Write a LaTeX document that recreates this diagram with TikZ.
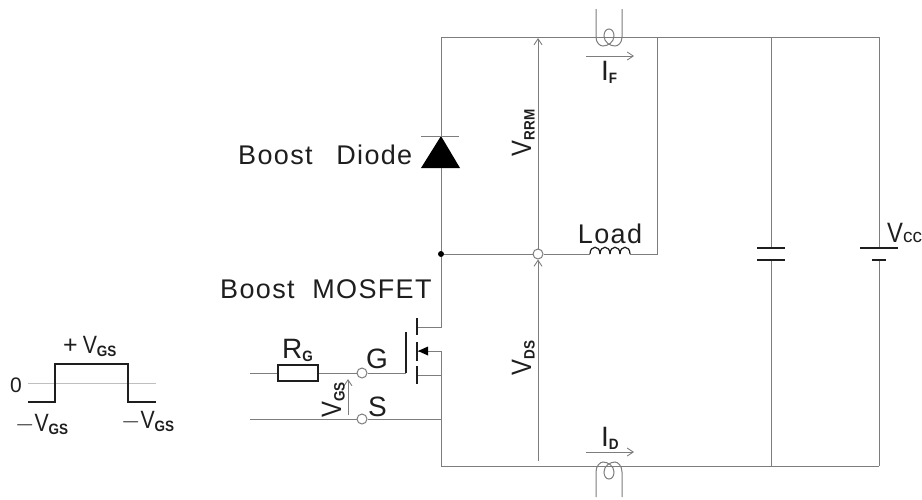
\documentclass[tikz,border=0pt]{standalone}
\usepackage{fontspec}
\setmainfont{Liberation Sans}
\newfontfamily\wordfont[LetterSpace=5,WordSpace=2]{Liberation Sans}
\usepackage{tikz}
\usetikzlibrary{arrows.meta, positioning, calc}
\definecolor{wireFg}{RGB}{125, 125, 125}
\definecolor{inkFg}{RGB}{30, 30, 30}
\tikzstyle{wire} = [wireFg, line width=1pt]
\tikzstyle{arrow} = [wireFg, line width=0.9pt, ->, >={Straight Barb[length=6pt,width=8pt]}]
\tikzstyle{plate} = [inkFg, line width=1.7pt]
\tikzstyle{terminal} = [circle, draw=wireFg, line width=1pt, fill=white, inner sep=0pt, minimum size=10pt]
\tikzstyle{junction} = [circle, fill=black, inner sep=0pt, minimum size=6pt]
\tikzstyle{resbox} = [rectangle, draw=inkFg, line width=1.7pt, fill=white, inner sep=0pt, minimum width=40pt, minimum height=16pt]
\tikzstyle{label} = [text=inkFg, inner sep=0pt, font=\fontsize{28}{28}\selectfont]
\tikzstyle{wavelabel} = [label, font=\fontsize{25}{25}\selectfont]
\tikzstyle{wordlabel} = [label, font=\fontsize{27}{27}\wordfont]
\newcommand{\lowtext}[1]{\raisebox{-3.5pt}{\scalebox{.9}[1]{\fontsize{15}{15}\selectfont\bfseries #1}}}
\newcommand{\volt}{\scalebox{.85}[1]{V}}

\begin{document}
\begin{tikzpicture}[x=1pt, y=-1pt]
\useasboundingbox (0,0) rectangle (922,499);

% rails
\coordinate (topL) at (441,37);
\coordinate (topLoad) at (657,37);
\coordinate (topCap) at (771,37);
\coordinate (topBat) at (879,37);
\coordinate (botL) at (441,466);
\coordinate (botCap) at (771,466);
\coordinate (botBat) at (879,466);
\draw [wire] (topL) -- (topBat);
\draw [wire] (botL) -- (botBat);

% diode
\coordinate (dioA) at (441,136);
\coordinate (dioB) at (441,168);
\draw [wire] (topL) -- (dioA);
\fill [black] (dioA) -- (421,168) -- (460,168) -- cycle;
\draw [wire] (421,136) -- (459,136);
\node (dot) [junction] at (441,254) {};
\draw [wire] (dioB) -- (dot);
\node (diodeText) [wordlabel, anchor=base west] at (238,164) {Boost\hspace{6pt} Diode};

% load branch
\node (mid) [terminal] at (538,254) {};
\coordinate (indL) at (590,254);
\coordinate (indR) at (630,254);
\coordinate (loadCorner) at (657,254);
\draw [wire] (dot) -- (mid);
\draw [wire] (mid) -- (indL);
\foreach \hump in {0,10,20,30}
  \draw [inkFg, line width=1.2pt] (590+\hump,254) .. controls (590+\hump,245) and (600+\hump,245) .. (600+\hump,254);
\draw [wire] (indR) -- (loadCorner) -- (topLoad);
\node (loadText) [wordlabel, anchor=base] at (610,243) {Load};

% capacitor
\coordinate (capA) at (771,248);
\coordinate (capB) at (771,260);
\draw [wire] (topCap) -- (capA);
\draw [wire] (capB) -- (botCap);
\draw [plate] (757,248) -- (785,248);
\draw [plate] (757,260) -- (785,260);

% battery
\coordinate (batA) at (879,248);
\coordinate (batB) at (879,260);
\draw [wire] (topBat) -- (batA);
\draw [wire] (batB) -- (botBat);
\draw [plate] (860,248) -- (898,248);
\draw [plate] (872,260) -- (886,260);
\node (vcc) [label, anchor=base west] at (887,242) {\volt{\fontsize{19}{19}\selectfont cc}};

% voltage arrows
\coordinate (rrmEnd) at (538,38);
\coordinate (dsStart) at (538,461);
\draw [arrow] (mid) -- (rrmEnd);
\draw [arrow] (dsStart) -- (mid);
\node (vrrm) [label, rotate=90, anchor=base] at (531,133) {\volt\lowtext{RRM}};
\node (vds) [label, rotate=90, anchor=base] at (531,358) {\volt\lowtext{DS}};

% current probes
\draw [wire] (596,9) -- (596,37) .. controls (596,43) and (600,46) .. (603,46)
  .. controls (608,46) and (614,42) .. (614,36) .. controls (614,32) and (612,29) .. (609,29)
  .. controls (606,29) and (604,32) .. (604,36) .. controls (604,42) and (610,46) .. (615,46)
  .. controls (618,46) and (622,43) .. (622,37) -- (622,9);
\draw [wire] (596,497) -- (596,472) .. controls (596,466) and (600,462) .. (603,462)
  .. controls (608,462) and (614,466) .. (614,472) .. controls (614,476) and (612,479) .. (609,479)
  .. controls (606,479) and (604,476) .. (604,472) .. controls (604,466) and (610,462) .. (615,462)
  .. controls (618,462) and (622,466) .. (622,472) -- (622,497);
\coordinate (ifL) at (586,56);
\coordinate (ifR) at (634,56);
\coordinate (idL) at (586,452);
\coordinate (idR) at (634,452);
\draw [arrow] (ifL) -- (ifR);
\draw [arrow] (idL) -- (idR);
\node (iF) [label, anchor=base west] at (601,80) {I\lowtext{F}};
\node (iD) [label, anchor=base west] at (601,446) {I\lowtext{D}};

% MOSFET
\coordinate (drain) at (417,327);
\coordinate (body) at (417,351);
\coordinate (source) at (417,375);
\coordinate (bodyTap) at (441,351);
\coordinate (drainTap) at (441,327);
\coordinate (sourceTap) at (441,375);
\coordinate (sTap) at (441,419);
\draw [wire] (dot) -- (drainTap) -- (drain);
\draw [wire] (bodyTap) -- (botL);
\draw [wire] (bodyTap) -- (body);
\draw [wire] (source) -- (sourceTap);
\fill [black] (418,351) -- (428,346.5) -- (428,355.5) -- cycle;
\draw [plate] (417,318) -- (417,335);
\draw [plate] (417,342) -- (417,361);
\draw [plate] (417,366) -- (417,384);
\draw [plate] (406,332) -- (406,373);
\node (mosText) [wordlabel, anchor=base west] at (220,298) {Boost MOSFET};

% gate drive
\coordinate (gateIn) at (250,373);
\coordinate (gatePlate) at (406,373);
\coordinate (srcIn) at (250,419);
\node (rg) [resbox] at (298,373) {};
\node (gT) [terminal] at (362,373) {};
\node (sT) [terminal] at (362,419) {};
\draw [wire] (gateIn) -- (rg);
\draw [wire] (rg) -- (gT);
\draw [wire] (gT) -- (gatePlate);
\draw [wire] (srcIn) -- (sT);
\draw [wire] (sT) -- (sTap);
\node (rgText) [label, anchor=base west] at (282,358) {R\lowtext{G}};
\node (gText) [label, anchor=base west] at (366,368) {G};
\node (sText) [label, anchor=base west] at (368,416) {S};
\coordinate (vgsA) at (348,415);
\coordinate (vgsB) at (348,379);
\draw [arrow] (vgsA) -- (vgsB);
\node (vgs) [label, rotate=90, anchor=base] at (341,400) {\volt\lowtext{GS}};

% waveform
\coordinate (zeroL) at (28,383);
\coordinate (zeroR) at (156,383);
\draw [wire, lightgray] (zeroL) -- (zeroR);
\draw [inkFg, line width=1.4pt] (28,402) -- (55,402) -- (55,364) -- (128,364) -- (128,402) -- (156,402);
\node (zero) [label, font=\fontsize{21}{21}\selectfont, anchor=base] at (16,392) {0};
\node (posV) [wavelabel, anchor=base west] at (63,353) {+\kern5pt\volt\lowtext{GS}};
\node (negL) [wavelabel, anchor=base west] at (15,431) {$-$\volt\lowtext{GS}};
\node (negR) [wavelabel, anchor=base west] at (121,428) {$-$\volt\lowtext{GS}};

\end{tikzpicture}
\end{document}
